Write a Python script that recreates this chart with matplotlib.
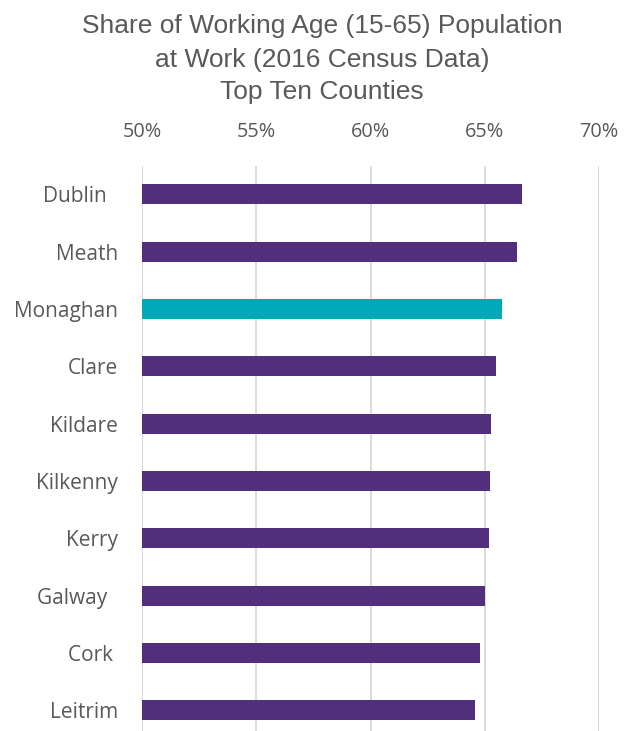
import matplotlib
matplotlib.use("Agg")
import matplotlib.pyplot as plt
from matplotlib.ticker import FuncFormatter

counties = ["Dublin  ", "Meath", "Monaghan", "Clare", "Kildare", "Kilkenny", "Kerry", "Galway  ", "Cork ", "Leitrim"]
values = [66.64, 66.43, 65.75, 65.50, 65.28, 65.23, 65.20, 65.02, 64.79, 64.57]
highlight = "Monaghan"
xticks = [50, 55, 60, 65, 70]
title_lines = ["Share of Working Age (15-65) Population", "at Work (2016 Census Data)", "Top Ten Counties"]

purple = "#512F7D"
teal = "#00A9B7"
grey = "#595959"
colors = [teal if c.strip() == highlight else purple for c in counties]

W, H = 636, 731
fig = plt.figure(figsize=(W / 100, H / 100), dpi=100)
ax_top = 165.6
ax = fig.add_axes([142.3 / W, 0, (599 - 142.3) / W, (H - ax_top) / H])

ypos = list(range(len(counties)))
ax.barh(ypos, [v - 50 for v in values], left=50, height=0.35, color=colors, zorder=3)

ax.set_xlim(50, 70)
ax.set_ylim(9.36, -0.5)
ax.set_xticks(xticks)
ax.xaxis.set_major_formatter(FuncFormatter(lambda v, p: f"{v:.0f}%"))
ax.xaxis.tick_top()
ax.set_yticks(ypos)
ax.set_yticklabels(counties)
ax.grid(axis="x", color="#d9d9d9", linewidth=1.3, zorder=0)
for s in ax.spines.values():
    s.set_visible(False)
ax.tick_params(axis="both", length=0, colors=grey)
ax.tick_params(axis="x", pad=17.3, labelsize=14.3)
ax.tick_params(axis="y", pad=17.5, labelsize=15)
for lab in ax.get_xticklabels() + ax.get_yticklabels():
    lab.set_fontfamily(["Open Sans", "DejaVu Sans"])

for line, yb in zip(title_lines, [33.3, 66.7, 99.3]):
    fig.text(322 / W, 1 - yb / H, line, ha="center", va="baseline",
             fontsize=19, color=grey, family=["Liberation Sans", "DejaVu Sans"])

fig.savefig("out.png", dpi=100)
